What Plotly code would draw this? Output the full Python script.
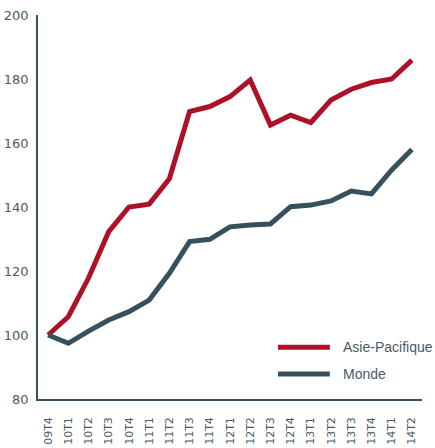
import plotly.graph_objects as go

quarters = ["09T4", "10T1", "10T2", "10T3", "10T4", "11T1", "11T2", "11T3", "11T4",
            "12T1", "12T2", "12T3", "12T4", "13T1", "13T2", "13T3", "13T4", "14T1", "14T2"]

asie_pacifique = [100, 105.7, 117.8, 132.3, 140.0, 140.9, 148.8, 169.8, 171.4,
                  174.5, 179.7, 165.6, 168.7, 166.4, 173.4, 176.8, 178.9, 180.0, 185.9]

monde = [100, 97.4, 101.2, 104.7, 107.3, 110.9, 119.3, 129.2, 129.9,
         133.8, 134.4, 134.7, 140.1, 140.6, 141.9, 145.0, 144.1, 151.6, 158.0]

series_names = ["Asie-Pacifique", "Monde"]

RED = "#ae1028"
SLATE = "#36505e"
TEXT = "#4a5a66"

fig = go.Figure()

fig.add_trace(go.Scatter(
    x=quarters, y=asie_pacifique, name=series_names[0], mode="lines",
    line=dict(color=RED, width=5)
))
fig.add_trace(go.Scatter(
    x=quarters, y=monde, name=series_names[1], mode="lines",
    line=dict(color=SLATE, width=5)
))

# hand-made legend (plotly's own legend pushes the margins here)
legend_rows = [(series_names[0], RED, 0.135), (series_names[1], SLATE, 0.065)]
for name, color, ypos in legend_rows:
    fig.add_shape(type="line", xref="paper", yref="paper",
                  x0=0.625, x1=0.76, y0=ypos, y1=ypos,
                  line=dict(color=color, width=5))
    fig.add_annotation(text=name, xref="paper", yref="paper",
                       x=0.79, y=ypos, xanchor="left", yanchor="middle",
                       showarrow=False,
                       font=dict(family="Liberation Sans, Arial, sans-serif", size=14, color=TEXT))

fig.update_layout(
    width=435, height=448,
    margin=dict(l=38, r=13, t=15, b=49),
    paper_bgcolor="white", plot_bgcolor="white",
    font=dict(family="DejaVu Sans, sans-serif", color=TEXT, size=13),
    showlegend=False,
)

fig.update_xaxes(
    type="category", range=[-0.5, 18.5], automargin=False,
    showline=True, linecolor=SLATE, linewidth=1.5,
    showgrid=False, zeroline=False, ticks="",
    tickangle=-90, tickfont=dict(size=11, color=TEXT), ticklabelstandoff=12
)
fig.update_yaxes(
    range=[80, 200], dtick=20, automargin=False,
    showline=True, linecolor=SLATE, linewidth=1.5,
    showgrid=False, zeroline=False, ticks="",
    tickfont=dict(size=13, color=TEXT), ticklabelstandoff=5
)

# drop the default 8px body margin so the figure fills the window exactly
fig.write_html("out.html", config={"responsive": False, "displayModeBar": False},
               post_script="document.body.style.margin='0';document.body.style.overflow='hidden';")
